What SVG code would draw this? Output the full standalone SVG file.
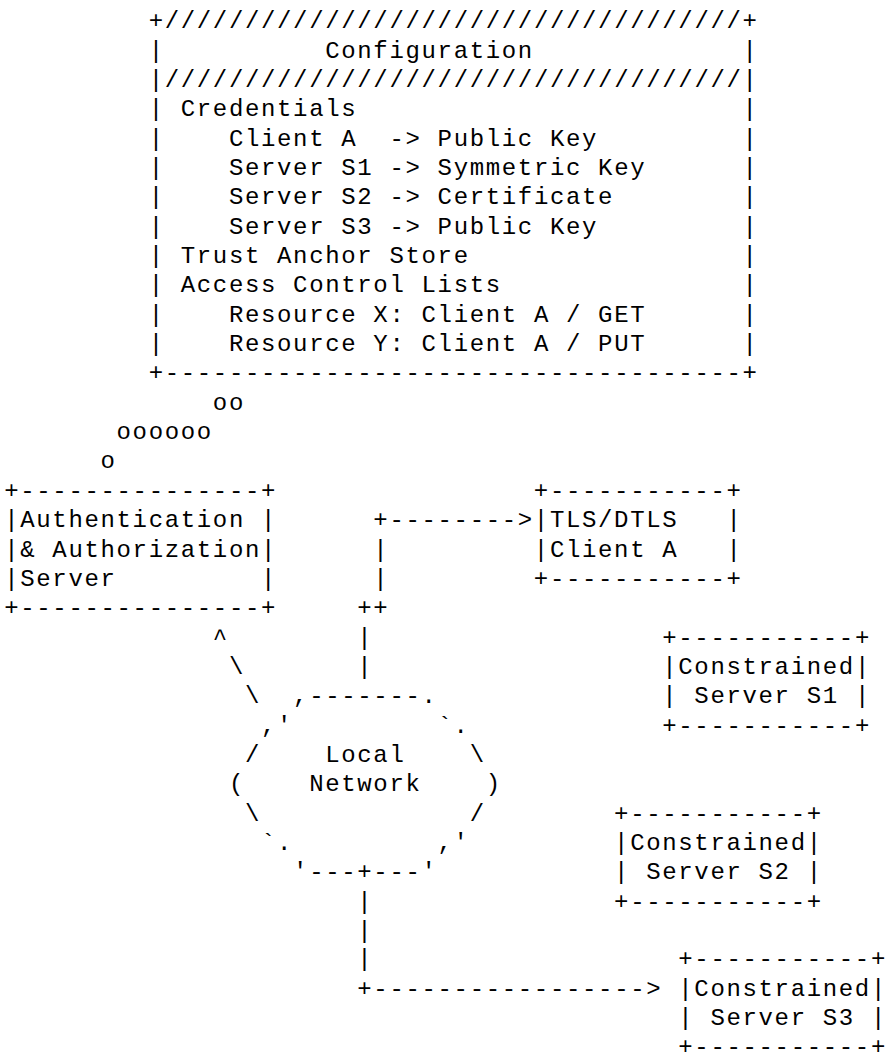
<svg xmlns="http://www.w3.org/2000/svg" width="888" height="1059" viewBox="0 0 888 1059">
<style>
text{font-family:"Liberation Mono","Courier New",monospace;font-size:24px;letter-spacing:1.65px;fill:#000;white-space:pre}
</style>
<rect width="888" height="1059" fill="#fff"/>
<g id="configuration">
<text xml:space="preserve"><tspan x="148.65" y="28.2">+////////////////////////////////////+</tspan><tspan x="148.65" y="57.55">|          Configuration             |</tspan><tspan x="148.65" y="86.9">|////////////////////////////////////|</tspan><tspan x="148.65" y="116.25">| Credentials                        |</tspan><tspan x="148.65" y="145.6">|    Client A  -&gt; Public Key         |</tspan><tspan x="148.65" y="174.95">|    Server S1 -&gt; Symmetric Key      |</tspan><tspan x="148.65" y="204.3">|    Server S2 -&gt; Certificate        |</tspan><tspan x="148.65" y="233.65">|    Server S3 -&gt; Public Key         |</tspan><tspan x="148.65" y="263">| Trust Anchor Store                 |</tspan><tspan x="148.65" y="292.35">| Access Control Lists               |</tspan><tspan x="148.65" y="321.7">|    Resource X: Client A / GET      |</tspan><tspan x="148.65" y="351.05">|    Resource Y: Client A / PUT      |</tspan><tspan x="148.65" y="380.4">+------------------------------------+</tspan></text>
</g>
<g id="auth-server">
<text xml:space="preserve"><tspan x="4.2" y="497.8">+---------------+</tspan><tspan x="4.2" y="527.15">|Authentication |</tspan><tspan x="4.2" y="556.5">|&amp; Authorization|</tspan><tspan x="4.2" y="585.85">|Server         |</tspan><tspan x="4.2" y="615.2">+---------------+</tspan></text>
</g>
<g id="tls-client-a">
<text xml:space="preserve"><tspan x="533.85" y="497.8">+-----------+</tspan><tspan x="533.85" y="527.15">|TLS/DTLS   |</tspan><tspan x="533.85" y="556.5">|Client A   |</tspan><tspan x="533.85" y="585.85">+-----------+</tspan></text>
</g>
<g id="server-s1">
<text xml:space="preserve"><tspan x="662.25" y="644.55">+-----------+</tspan><tspan x="662.25" y="673.9">|Constrained|</tspan><tspan x="662.25" y="703.25">| Server S1 |</tspan><tspan x="662.25" y="732.6">+-----------+</tspan></text>
</g>
<g id="server-s2">
<text xml:space="preserve"><tspan x="614.1" y="820.65">+-----------+</tspan><tspan x="614.1" y="850">|Constrained|</tspan><tspan x="614.1" y="879.35">| Server S2 |</tspan><tspan x="614.1" y="908.7">+-----------+</tspan></text>
</g>
<g id="server-s3">
<text xml:space="preserve"><tspan x="678.3" y="966.4">+-----------+</tspan><tspan x="678.3" y="995.75">|Constrained|</tspan><tspan x="678.3" y="1025.1">| Server S3 |</tspan><tspan x="678.3" y="1053.5">+-----------+</tspan></text>
</g>
<g id="local-network">
<text xml:space="preserve"><tspan x="293.1" y="703.25">,-------.</tspan><tspan x="261" y="732.6">,'</tspan><tspan x="437.55" y="732.6">`.</tspan><tspan x="244.95" y="761.95">/</tspan><tspan x="325.2" y="761.95">Local</tspan><tspan x="469.65" y="761.95">\</tspan><tspan x="228.9" y="791.3">(</tspan><tspan x="309.15" y="791.3">Network</tspan><tspan x="485.7" y="791.3">)</tspan><tspan x="244.95" y="820.65">\</tspan><tspan x="469.65" y="820.65">/</tspan><tspan x="261" y="850">`.</tspan><tspan x="437.55" y="850">,'</tspan><tspan x="293.1" y="879.35">'---+---'</tspan></text>
</g>
<g id="connectors">
<text xml:space="preserve"><tspan x="212.85" y="409.75">oo</tspan><tspan x="116.55" y="439.1">oooooo</tspan><tspan x="100.5" y="468.45">o</tspan></text>
<text xml:space="preserve"><tspan x="373.35" y="527.15">+--------&gt;</tspan><tspan x="373.35" y="556.5">|</tspan><tspan x="373.35" y="585.85">|</tspan><tspan x="357.3" y="615.2">++</tspan><tspan x="357.3" y="644.55">|</tspan><tspan x="357.3" y="673.9">|</tspan></text>
<text xml:space="preserve"><tspan x="212.85" y="644.55">^</tspan><tspan x="228.9" y="673.9">\</tspan><tspan x="244.95" y="703.25">\</tspan></text>
<text xml:space="preserve"><tspan x="357.3" y="908.7">|</tspan><tspan x="357.3" y="938.05">|</tspan><tspan x="357.3" y="966.4">|</tspan><tspan x="357.3" y="995.75">+-----------------&gt;</tspan></text>
</g>
</svg>
